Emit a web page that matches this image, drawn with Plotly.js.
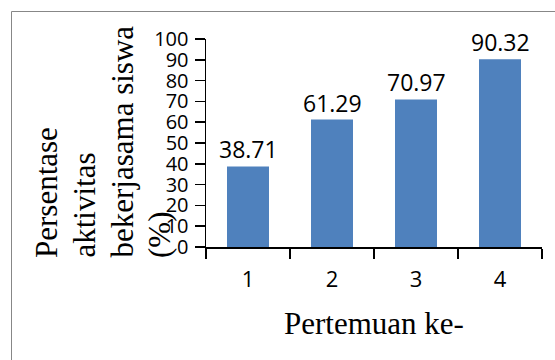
<!DOCTYPE html>
<html>
<head>
<meta charset="utf-8">
<script src="https://cdn.plot.ly/plotly-3.0.1.min.js"></script>
<style>
  html, body { margin: 0; padding: 0; background: #ffffff; }
  #chart { width: 555px; height: 360px; }
</style>
</head>
<body>
<div id="chart"></div>
<script>
// Meeting number on the x axis, cooperative-activity percentage on the y axis
const categories = ['1', '2', '3', '4'];
const percentValues = [38.71, 61.29, 70.97, 90.32];
const yTickValues = [0, 10, 20, 30, 40, 50, 60, 70, 80, 90, 100];
const yTitleLines = ['Persentase', 'aktivitas', 'bekerjasama siswa', '(%)'];
const xTitleText = 'Pertemuan ke-';

const W = 555, H = 360;
const M = { l: 206, r: 13, t: 39, b: 113 };
const plotW = W - M.l - M.r;
const plotH = H - M.t - M.b;
// pixel -> paper helpers for the outer frame
const px2x = px => (px - M.l) / plotW;
const py2y = py => (H - M.b - py) / plotH;

const serif = 'Liberation Serif, Times New Roman, serif';
const sans = 'Open Sans, Noto Sans, sans-serif';

const trace = {
  type: 'bar',
  x: categories,
  y: percentValues,
  marker: { color: '#4f81bd' },
  hoverinfo: 'skip'
};

// value labels sitting just above each bar (x given as category index)
const valueAnnotations = categories.map((c, i) => ({
  text: percentValues[i].toFixed(2),
  xref: 'x', yref: 'y',
  x: i, y: percentValues[i],
  xanchor: 'center', yanchor: 'bottom',
  yshift: -1,
  showarrow: false,
  font: { family: sans, size: 23, color: '#000000' }
}));

// vertical title drawn as separate lines, all starting at the same bottom edge
const lineCenters = [46.5, 84, 121.5, 159];
const titleAnnotations = yTitleLines.map((t, i) => ({
  text: t,
  xref: 'paper', yref: 'paper',
  x: 0, y: 0,
  xshift: lineCenters[i] - M.l,
  yshift: -13,
  xanchor: 'center', yanchor: 'bottom',
  textangle: -90,
  showarrow: false,
  font: { family: serif, size: 31, color: '#000000' }
}));

const layout = {
  width: W, height: H,
  margin: M,
  paper_bgcolor: '#ffffff',
  plot_bgcolor: '#ffffff',
  showlegend: false,
  bargap: 0.5,
  xaxis: {
    type: 'category',
    range: [-0.5, categories.length - 0.5],
    tickson: 'boundaries',
    ticks: 'outside', ticklen: 10, tickwidth: 1.5, tickcolor: '#000000',
    showline: true, linecolor: '#000000', linewidth: 1.5,
    showgrid: false, zeroline: false,
    tickfont: { family: sans, size: 22, color: '#000000' },
    ticklabelstandoff: 12,
    title: {
      text: xTitleText,
      font: { family: serif, size: 31, color: '#000000' },
      standoff: 20
    }
  },
  yaxis: {
    range: [0, 100],
    tickvals: yTickValues,
    ticks: 'outside', ticklen: 10, tickwidth: 1.5, tickcolor: '#000000',
    showline: true, linecolor: '#000000', linewidth: 1.5,
    showgrid: false, zeroline: false,
    tickfont: { family: sans, size: 20, color: '#000000' },
    ticklabelstandoff: 2
  },
  annotations: valueAnnotations.concat(titleAnnotations),
  shapes: [{
    type: 'rect', xref: 'paper', yref: 'paper',
    x0: px2x(11.5), y0: py2y(11.5), x1: px2x(W + 20), y1: py2y(H + 20),
    line: { color: '#878787', width: 1 },
    fillcolor: 'rgba(0,0,0,0)',
    layer: 'below'
  }]
};

Plotly.newPlot('chart', [trace], layout, { staticPlot: true, displayModeBar: false });
</script>
</body>
</html>
